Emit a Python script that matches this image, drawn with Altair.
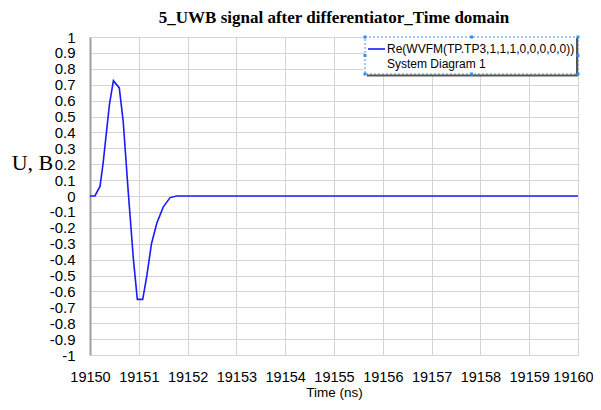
import altair as alt
import pandas as pd

# Data
times = [19150.0, 19150.10, 19150.205, 19150.27, 19150.40, 19150.48, 19150.60,
         19150.68, 19150.785, 19150.89, 19150.97, 19151.08, 19151.16, 19151.26,
         19151.37, 19151.50, 19151.64, 19151.78, 19160.0]
values = [0.0, 0.0, 0.06, 0.21, 0.58, 0.725, 0.68,
          0.47, 0.02, -0.40, -0.65, -0.65, -0.51, -0.30,
          -0.17, -0.07, -0.01, 0.0, 0.0]

x_ticks = list(range(19150, 19161))
y_ticks = [round(-1 + 0.1 * i, 1) for i in range(21)]

legend_series = ["Re(WVFM(TP.TP3,1,1,1,0,0,0,0,0))"]
legend_source = ["System Diagram 1"]

title_text = "5_UWB signal after differentiator_Time domain"
x_title = "Time (ns)"
y_title = "U, B"

df = pd.DataFrame({"t": times, "v": values})

W, H = 488, 318

line = alt.Chart(df).mark_line(color="#1a1aff", strokeWidth=1.6).encode(
    x=alt.X("t:Q",
            scale=alt.Scale(domain=[19150, 19160], nice=False, zero=False),
            axis=alt.Axis(values=x_ticks, format="d", title=x_title,
                          labelFontSize=14.5, titleFontSize=13.5, labelColor="black",
                          titleColor="black", labelFont="Liberation Sans",
                          titleFont="Liberation Sans", titleFontWeight="normal",
                          ticks=False, domain=False, labelPadding=15,
                          labelOffset={"condition": {"test": "datum.value == 19160", "value": -5},
                                       "value": 0},
                          titlePadding=2, gridColor="#d4d4d4", gridWidth=1,
                          labelFlush=False, labelOverlap=False)),
    y=alt.Y("v:Q",
            scale=alt.Scale(domain=[-1, 1], nice=False),
            axis=alt.Axis(values=y_ticks, title=y_title, titleAngle=0,
                          labelExpr="replace(format(datum.value, '~g'), '\u2212', '-')",
                          titleX=-58, titleY=125, titleAlign="center",
                          titleBaseline="middle",
                          titleFont="Liberation Serif", titleFontSize=22,
                          titleFontWeight="normal", titleColor="black",
                          labelFontSize=15, labelFont="Liberation Sans",
                          labelColor="black", ticks=False, labelPadding=15,
                          domainColor="#a0a0a0", domainWidth=2,
                          gridColor="#d4d4d4", gridWidth=1,
                          labelOverlap=False, labelFlush=False)),
)

leg_df = pd.DataFrame({"a": legend_series, "b": legend_source})

box = alt.Chart(leg_df).mark_rect(fill="white", stroke="#4a90e2", strokeDash=[2, 2],
                                  strokeWidth=1).encode(
    x=alt.value(275), x2=alt.value(488), y=alt.value(0), y2=alt.value(37))
shadow_r = alt.Chart(leg_df).mark_rule(color="#555555", strokeWidth=2).encode(
    x=alt.value(487), y=alt.value(1), y2=alt.value(39))
shadow_b = alt.Chart(leg_df).mark_rule(color="#555555", strokeWidth=2).encode(
    x=alt.value(277), x2=alt.value(488), y=alt.value(38.5))
sample = alt.Chart(leg_df).mark_rule(color="#1a1aff", strokeWidth=1.6).encode(
    x=alt.value(278), x2=alt.value(295), y=alt.value(12))
txt1 = alt.Chart(leg_df).mark_text(align="left", baseline="middle", fontSize=12,
                                   font="Liberation Sans", color="black").encode(
    x=alt.value(297), y=alt.value(11.5), text="a:N")
txt2 = alt.Chart(leg_df).mark_text(align="left", baseline="middle", fontSize=12,
                                   font="Liberation Sans", color="black").encode(
    x=alt.value(297), y=alt.value(26.5), text="b:N")

handles_df = pd.DataFrame({
    "hx": [275, 381.5, 488, 275, 488, 275, 381.5, 488],
    "hy": [0, 0, 0, 18.5, 18.5, 37, 37, 37],
})
handles = alt.Chart(handles_df).mark_point(shape="square", filled=True, size=9,
                                           color="#3a8ee6", opacity=1).encode(
    x=alt.X("hx:Q", scale=None), y=alt.Y("hy:Q", scale=None))

chart = alt.layer(line, box, shadow_r, shadow_b, sample, txt1, txt2, handles).properties(
    width=W, height=H,
    title=alt.TitleParams(title_text, font="Liberation Serif", fontSize=17,
                          fontWeight="bold", color="black", anchor="middle",
                          offset=3),
    autosize=alt.AutoSizeParams(type="none"),
    padding={"left": 82, "top": 29, "right": 15, "bottom": 47},
).configure_view(stroke="#a0a0a0", strokeWidth=1).configure(background="white")

chart.save("out.html", embed_options={"renderer": "svg", "actions": False})
